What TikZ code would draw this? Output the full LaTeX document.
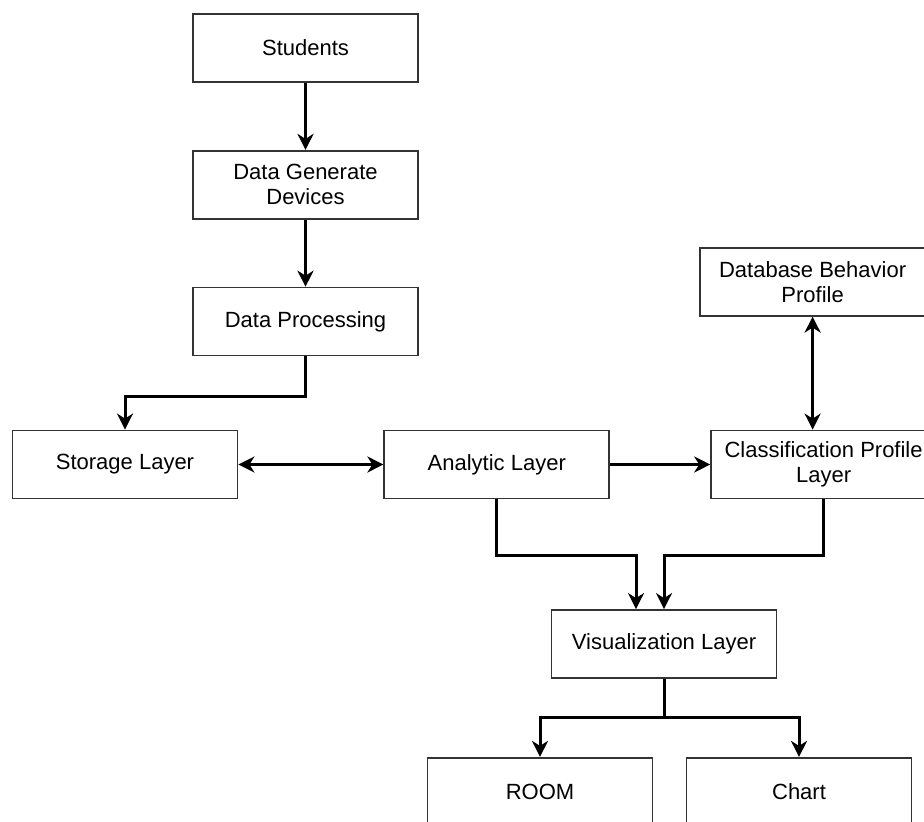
\documentclass[tikz,border=0pt]{standalone}
\usepackage{fontspec}
\setmainfont{Liberation Sans}
\usepackage{tikz}
\usetikzlibrary{positioning,arrows.meta}
\tikzset{
  layerBox/.style={
    rectangle,
    draw=black!80,
    line width=0.9pt,
    fill=white,
    minimum width=112.5pt,
    minimum height=34pt,
    inner sep=1pt,
    align=center,
    font=\fontsize{11}{12.5}\selectfont
  },
  arrowLine/.style={
    -{Stealth[length=8pt,width=8pt,inset=2.5pt]},
    line width=1.5pt
  },
  biArrow/.style={
    {Stealth[length=8pt,width=8pt,inset=2.5pt]}-{Stealth[length=8pt,width=8pt,inset=2.5pt]},
    line width=1.5pt
  }
}

\begin{document}
\begin{tikzpicture}[x=0.5pt,y=-0.5pt]
        \useasboundingbox (0,0) rectangle (924,822);
        \node[layerBox] (students) at (305.5,48) {Students};
        \node[layerBox, below=33.5pt of students] (devices) {Data Generate\\Devices};
        \node[layerBox, below=33.5pt of devices] (processing) {Data Processing};
        \node[layerBox] (storage) at (125,464.5) {Storage Layer};
        \node[layerBox, right=72.5pt of storage] (analytic) {Analytic Layer};
        \node[layerBox, right=50pt of analytic] (classification) {Classification Profile\\Layer};
        \node[layerBox, above=56.5pt of classification, xshift=-5.5pt] (database) {Database Behavior\\Profile};
        \node[layerBox] (visual) at (664,644) {Visualization Layer};
        \node[layerBox, below=39pt of visual, xshift=-62pt] (room) {ROOM};
        \node[layerBox, below=39pt of visual, xshift=67.5pt] (chart) {Chart};

        \draw[arrowLine] (students) -- (devices);
        \draw[arrowLine] (devices) -- (processing);
        \draw[arrowLine] (processing.south) -- ++(0,40) -| (storage.north);
        \draw[biArrow] (storage) -- (analytic);
        \draw[arrowLine] (analytic) -- (classification);
        \draw[biArrow] (database.south) -- (database.south |- classification.north);
        \draw[arrowLine] (analytic.south) -- ++(0,56) -| ([xshift=-14pt]visual.north);
        \draw[arrowLine] (classification.south) -- ++(0,56) -| (visual.north);
        \draw[arrowLine] (visual.south) -- ++(0,39) -| (room.north);
        \draw[arrowLine] (visual.south) -- ++(0,39) -| (chart.north);
    \end{tikzpicture}
\end{document}
